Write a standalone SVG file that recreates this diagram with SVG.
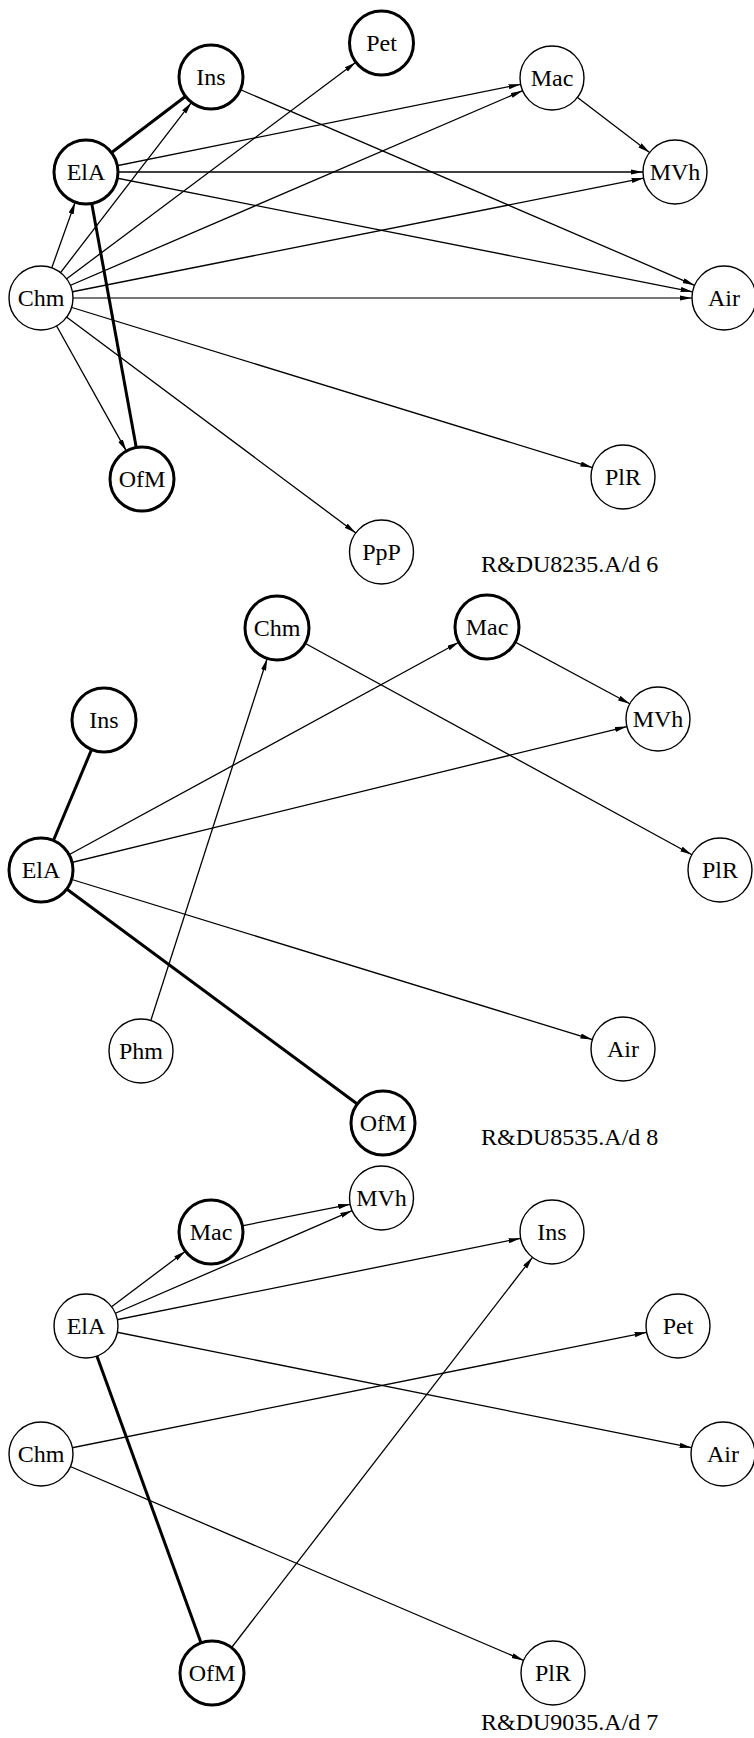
<svg xmlns="http://www.w3.org/2000/svg" width="754" height="1738" viewBox="0 0 754 1738">
<style>
.n circle{fill:#fff;stroke:#000;stroke-width:1.4}
.n.b circle{stroke-width:3}
.n text,.lbl{font-family:"Liberation Serif","Times New Roman",serif;font-size:24px;fill:#000}
.n text{text-anchor:middle}
.e{stroke:#000;stroke-width:1.3;fill:none}
.a{marker-end:url(#ah)}
.t{stroke-width:3}
.g{stroke:#777;stroke-width:2}
</style>
<defs>
<marker id="ah" markerUnits="userSpaceOnUse" markerWidth="13" markerHeight="6" refX="12" refY="2.6" orient="auto">
<path d="M0,0 L12,2.6 L0,5.2 z" fill="#000"/>
</marker>
</defs>
<rect width="754" height="1738" fill="#fff"/>
<g id="connectors">
<!-- top -->
<line class="e t" x1="86" y1="172" x2="211" y2="77"/>
<line class="e a" x1="41" y1="298" x2="75.2" y2="202.1"/>
<line class="e a" x1="41" y1="298" x2="191.5" y2="102.4"/>
<line class="e a" x1="41" y1="298" x2="355.9" y2="62.2"/>
<line class="e a" x1="211" y1="77" x2="694.6" y2="285.3"/>
<line class="e a" x1="86" y1="172" x2="520.6" y2="84.3"/>
<line class="e a" x1="41" y1="298" x2="522.6" y2="90.7"/>
<line class="e a" x1="86" y1="172" x2="643" y2="172"/>
<line class="e a" x1="552" y1="78" x2="649.6" y2="152.6"/>
<line class="e a" x1="41" y1="298" x2="643.6" y2="178.2"/>
<line class="e a" x1="86" y1="172" x2="692.6" y2="291.8"/>
<line class="e a g" x1="41" y1="298" x2="692" y2="298"/>
<line class="e t" x1="86" y1="172" x2="142" y2="479"/>
<line class="e a" x1="41" y1="298" x2="126.4" y2="451.1"/>
<line class="e a" x1="41" y1="298" x2="592.4" y2="467.6"/>
<line class="e a" x1="41" y1="298" x2="355.8" y2="532.9"/>
<!-- middle -->
<line class="e t" x1="41" y1="870" x2="104" y2="720"/>
<line class="e a" x1="141" y1="1051" x2="267.2" y2="658.5"/>
<line class="e a" x1="41" y1="870" x2="458.9" y2="642.3"/>
<line class="e a" x1="41" y1="870" x2="626.9" y2="726.6"/>
<line class="e a" x1="277" y1="628" x2="691.9" y2="854.7"/>
<line class="e a" x1="487" y1="627" x2="629.8" y2="703.8"/>
<line class="e a" x1="41" y1="870" x2="592.4" y2="1039.6"/>
<line class="e t" x1="41" y1="870" x2="383" y2="1123"/>
<!-- bottom -->
<line class="e a" x1="86" y1="1326" x2="185.4" y2="1251.2"/>
<line class="e a" x1="211" y1="1232" x2="350.1" y2="1204.3"/>
<line class="e a" x1="86" y1="1326" x2="352.1" y2="1210.7"/>
<line class="e a" x1="86" y1="1326" x2="520.6" y2="1238.3"/>
<line class="e a" x1="212" y1="1673" x2="532.5" y2="1257.3"/>
<line class="e a" x1="41" y1="1454" x2="646.6" y2="1332.3"/>
<line class="e a" x1="86" y1="1326" x2="691.6" y2="1447.7"/>
<line class="e a" x1="41" y1="1454" x2="523.6" y2="1660.4"/>
<line class="e t" x1="86" y1="1326" x2="212" y2="1673"/>
</g>
<!-- top nodes -->
<g id="t-ins" class="n b"><circle cx="211" cy="77" r="32"/><text x="211" y="85">Ins</text></g>
<g id="t-pet" class="n b"><circle cx="381.5" cy="43" r="32"/><text x="381.5" y="51">Pet</text></g>
<g id="t-mac" class="n"><circle cx="552" cy="78" r="32"/><text x="552" y="86">Mac</text></g>
<g id="t-ela" class="n b"><circle cx="86" cy="172" r="32"/><text x="86" y="180">ElA</text></g>
<g id="t-mvh" class="n"><circle cx="675" cy="172" r="32"/><text x="675" y="180">MVh</text></g>
<g id="t-chm" class="n"><circle cx="41" cy="298" r="32"/><text x="41" y="306">Chm</text></g>
<g id="t-air" class="n"><circle cx="724" cy="298" r="32"/><text x="724" y="306">Air</text></g>
<g id="t-ofm" class="n b"><circle cx="142" cy="479" r="32"/><text x="142" y="487">OfM</text></g>
<g id="t-plr" class="n"><circle cx="623" cy="477" r="32"/><text x="623" y="485">PlR</text></g>
<g id="t-ppp" class="n"><circle cx="381.5" cy="552" r="32"/><text x="381.5" y="560">PpP</text></g>
<text class="lbl" x="481" y="572">R&amp;DU8235.A/d 6</text>
<!-- middle nodes -->
<g id="m-chm" class="n b"><circle cx="277" cy="628" r="32"/><text x="277" y="636">Chm</text></g>
<g id="m-ins" class="n b"><circle cx="104" cy="720" r="32"/><text x="104" y="728">Ins</text></g>
<g id="m-ela" class="n b"><circle cx="41" cy="870" r="32"/><text x="41" y="878">ElA</text></g>
<g id="m-mac" class="n b"><circle cx="487" cy="627" r="32"/><text x="487" y="635">Mac</text></g>
<g id="m-mvh" class="n"><circle cx="658" cy="719" r="32"/><text x="658" y="727">MVh</text></g>
<g id="m-plr" class="n"><circle cx="720" cy="870" r="32"/><text x="720" y="878">PlR</text></g>
<g id="m-phm" class="n"><circle cx="141" cy="1051" r="32"/><text x="141" y="1059">Phm</text></g>
<g id="m-air" class="n"><circle cx="623" cy="1049" r="32"/><text x="623" y="1057">Air</text></g>
<g id="m-ofm" class="n b"><circle cx="383" cy="1123" r="32"/><text x="383" y="1131">OfM</text></g>
<text class="lbl" x="481" y="1145">R&amp;DU8535.A/d 8</text>
<!-- bottom nodes -->
<g id="b-mac" class="n b"><circle cx="211" cy="1232" r="32"/><text x="211" y="1240">Mac</text></g>
<g id="b-mvh" class="n"><circle cx="381.5" cy="1198" r="32"/><text x="381.5" y="1206">MVh</text></g>
<g id="b-ins" class="n"><circle cx="552" cy="1232" r="32"/><text x="552" y="1240">Ins</text></g>
<g id="b-ela" class="n"><circle cx="86" cy="1326" r="32"/><text x="86" y="1334">ElA</text></g>
<g id="b-pet" class="n"><circle cx="678" cy="1326" r="32"/><text x="678" y="1334">Pet</text></g>
<g id="b-chm" class="n"><circle cx="41" cy="1454" r="32"/><text x="41" y="1462">Chm</text></g>
<g id="b-air" class="n"><circle cx="723" cy="1454" r="32"/><text x="723" y="1462">Air</text></g>
<g id="b-ofm" class="n b"><circle cx="212" cy="1673" r="32"/><text x="212" y="1681">OfM</text></g>
<g id="b-plr" class="n"><circle cx="553" cy="1673" r="32"/><text x="553" y="1681">PlR</text></g>
<text class="lbl" x="481" y="1730">R&amp;DU9035.A/d 7</text>
</svg>
